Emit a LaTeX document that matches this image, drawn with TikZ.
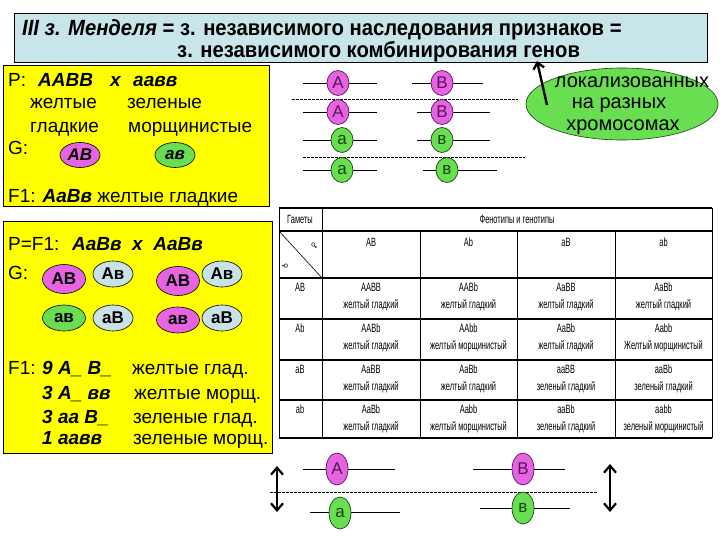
\documentclass[tikz,border=0pt]{standalone}
\usepackage{fontspec}
\setmainfont{Liberation Sans}
\newfontfamily\titlefont[FakeStretch=0.92]{Liberation Sans}
\newfontfamily\tabfont[FakeStretch=0.62]{Liberation Sans}
\newfontfamily\symfont{DejaVu Sans}
\usetikzlibrary{shapes.geometric,arrows.meta}
\definecolor{titlebg}{RGB}{200,230,234}
\definecolor{yel}{RGB}{255,255,0}
\definecolor{mag}{RGB}{230,100,225}
\definecolor{grn}{RGB}{105,222,80}
\definecolor{lblue}{RGB}{200,226,230}
\definecolor{magtxt}{RGB}{90,20,90}
\definecolor{grntxt}{RGB}{20,70,20}
\tikzset{
  box/.style={draw=black, line width=0.8, inner sep=0, anchor=north west},
  txt/.style={inner sep=0, anchor=base west, font=\fontsize{19}{19}\selectfont},
  gtxt/.style={inner sep=0, anchor=base west, font=\fontsize{19}{19}\selectfont\bfseries\itshape},
  gam/.style={ellipse, draw=black, line width=0.6, inner sep=0, minimum width=40, minimum height=25, font=\fontsize{17}{17}\selectfont\bfseries},
  chr/.style={ellipse, draw, line width=0.7, inner sep=0, minimum width=22, minimum height=25, font=\fontsize{17}{17}\selectfont},
  chM/.style={chr, fill=mag, draw=magtxt, text=magtxt},
  chG/.style={chr, fill=grn, draw=grntxt, text=grntxt},
  chline/.style={line width=0.8, black},
  dline/.style={line width=0.6, black, dash pattern=on 2.5pt off 1.5pt},
  tab/.style={inner sep=0, text=black, font=\tabfont\fontsize{12}{12}\selectfont, text height=8, text depth=2},
  dbl/.style={line width=2.2, {Straight Barb[length=7,width=12]}-{Straight Barb[length=7,width=12]}}
}
\begin{document}
\begin{tikzpicture}[x=1pt,y=-1pt]
\useasboundingbox (0,0) rectangle (720,540);
\fill[white] (0,0) rectangle (720,540);

% ---------- title ----------
\node[box, fill=titlebg, minimum width=693, minimum height=49] (title) at (14,13) {};
\node[inner sep=0, anchor=base west, font=\titlefont\fontsize{22}{22}\selectfont\bfseries] (tl1) at (22,36)
  {\itshape III з. Менделя\upshape{} = з. независимого наследования признаков =};
\node[inner sep=0, anchor=base west, font=\titlefont\fontsize{22}{22}\selectfont\bfseries] (tl2) at (177,58)
  {з. независимого комбинирования генов};

% ---------- yellow box 1 ----------
\node[box, fill=yel, minimum width=266, minimum height=141] (box1) at (3,65) {};
\node[txt] (p1) at (8,87) {P:};
\node[gtxt] (p1g) at (38,87) {AABB};
\node[gtxt] (p1x) at (110,87) {x};
\node[gtxt] (p1h) at (133,87) {aaвв};
\node[txt] (y1) at (30,109) {желтые};
\node[txt] (z1) at (127,109) {зеленые};
\node[txt] (gl1) at (30,133) {гладкие};
\node[txt] (m1) at (128,133) {морщинистые};
\node[txt] (g1) at (8,155) {G:};
\node[gam, fill=mag, font=\fontsize{17}{17}\selectfont\bfseries\itshape] (gAB) at (80,155) {AB};
\node[gam, fill=grn, font=\fontsize{17}{17}\selectfont\bfseries\itshape] (gab) at (175,155) {ав};
\node[txt] (f1) at (8,203) {F1: \textbf{\textit{AaBв}} желтые гладкие};

% ---------- yellow box 2 ----------
\node[box, fill=yel, minimum width=269, minimum height=232] (box2) at (3,221) {};
\node[txt] (p2) at (8,251) {P=F1:};
\node[gtxt] (p2g) at (72,251) {AaBв\ \ x\ \ AaBв};
\node[txt] (g2) at (8,279) {G:};
\node[gam, fill=mag, minimum width=43, minimum height=29] (e1) at (64,279) {AB};
\node[gam, fill=lblue, minimum height=26] (e2) at (113,274) {Aв};
\node[gam, fill=mag, minimum width=43, minimum height=29] (e3) at (178,281) {AB};
\node[gam, fill=lblue, minimum height=26] (e4) at (222,274) {Aв};
\node[gam, fill=grn, minimum width=43, minimum height=26] (e5) at (64,318) {ав};
\node[gam, fill=lblue, minimum height=26] (e6) at (113,318) {aB};
\node[gam, fill=mag, minimum width=43, minimum height=26] (e7) at (178,320) {ав};
\node[gam, fill=lblue, minimum height=26] (e8) at (222,318) {aB};
\node[txt] (f2) at (8,374) {F1:};
\node[gtxt] (r1) at (42,374) {9 A\_ B\_};
\node[txt] (q1) at (132,374) {желтые глад.};
\node[gtxt] (r2) at (42,399) {3 A\_ вв};
\node[txt] (q2) at (134,399) {желтые морщ.};
\node[gtxt] (r3) at (42,423) {3 aa B\_};
\node[txt] (q3) at (133,423) {зеленые глад.};
\node[gtxt] (r4) at (42,444) {1 aaвв};
\node[txt] (q4) at (133,444) {зеленые морщ.};

% ---------- top chromosomes ----------
\coordinate (a1l) at (303,83);  \coordinate (a1r) at (377,83);
\coordinate (b1l) at (412,83);  \coordinate (b1r) at (483,83);
\coordinate (a2l) at (303,112); \coordinate (a2r) at (377,112);
\coordinate (b2l) at (417,112); \coordinate (b2r) at (490,112);
\coordinate (a3l) at (303,140); \coordinate (a3r) at (377,140);
\coordinate (b3l) at (417,140); \coordinate (b3r) at (490,140);
\coordinate (a4l) at (303,170); \coordinate (a4r) at (377,170);
\coordinate (b4l) at (423,170); \coordinate (b4r) at (497,170);
\foreach \n in {a1,b1,a2,b2,a3,b3,a4,b4} \draw[chline] (\n l) -- (\n r);
\coordinate (d1l) at (292,99);  \coordinate (d1r) at (518,99);
\coordinate (d2l) at (303,157); \coordinate (d2r) at (525,157);
\draw[dline] (d1l) -- (d1r);
\draw[dline] (d2l) -- (d2r);
\node[chM] (cA1) at (338,83) {A};
\node[chM] (cB1) at (442,83) {B};
\node[chM] (cA2) at (338,112) {A};
\node[chM] (cB2) at (442,112) {B};
\node[chG] (ca3) at (342,140) {a};
\node[chG] (cb3) at (442,140) {в};
\node[chG] (ca4) at (342,170) {a};
\node[chG] (cb4) at (447,170) {в};

% ---------- green ellipse + arrow ----------
\node[ellipse, fill=grn, draw=grntxt, line width=0.6, minimum width=192, minimum height=72, inner sep=0] (loc) at (622,104) {};
\node[inner sep=0, font=\fontsize{20}{20}\selectfont, anchor=base] (loc1) at (632,88) {локализованных};
\node[inner sep=0, font=\fontsize{20}{20}\selectfont, anchor=base] (loc2) at (619,109) {на разных};
\node[inner sep=0, font=\fontsize{20}{20}\selectfont, anchor=base] (loc3) at (623,131) {хромосомах};
\coordinate (arT) at (547,105);
\coordinate (arH) at (537,61);
\draw[line width=2.4, -{Straight Barb[length=6,width=11]}] (arT) -- (arH);

% ---------- table ----------
\foreach \y in {208,231,278,319,360,400,438} \draw[line width=1.1] (279,\y) -- (712,\y);
\draw[line width=0.6] (279,208) -- (279,438);
\draw[line width=0.6] (712,208) -- (712,438);
\draw[line width=0.6] (322,208) -- (322,438);
\foreach \x in {420,517,615} \draw[line width=0.6] (\x,231) -- (\x,438);
\draw[line width=0.6] (279,231) -- (322,278);
\node[tab] (hG) at (300,220) {Гаметы};
\node[tab] (hF) at (517,220) {Фенотипы и генотипы};
\node[inner sep=0, rotate=-90, font=\symfont\fontsize{7}{7}\selectfont] (male) at (314,246) {♂};
\node[inner sep=0, rotate=-90, font=\symfont\fontsize{7}{7}\selectfont] (fem) at (285,266) {♀};
\node[tab] (cAB) at (371,244) {AB};
\node[tab] (cAb) at (468.5,244) {Ab};
\node[tab] (caB) at (566,244) {aB};
\node[tab] (cab) at (663.5,244) {ab};
\foreach \r/\lab/\ga/\pa/\gb/\pb/\gc/\pc/\gd/\pd in {
278/AB/AABB/желтый гладкий/AABb/желтый гладкий/AaBB/желтый гладкий/AaBb/желтый гладкий,
319/Ab/AABb/желтый гладкий/AAbb/желтый морщинистый/AaBb/желтый гладкий/Aabb/Желтый морщинистый,
360/aB/AaBB/желтый гладкий/AaBb/желтый гладкий/aaBB/зеленый гладкий/aaBb/зеленый гладкий,
400/ab/AaBb/желтый гладкий/Aabb/желтый морщинистый/aaBb/зеленый гладкий/aabb/зеленый морщинистый}{
  \node[tab] (L\r) at (300,\r+10) {\lab};
  \node[tab] (G1\r) at (371,\r+10) {\ga};
  \node[tab] (P1\r) at (371,\r+27) {\pa};
  \node[tab] (G2\r) at (468.5,\r+10) {\gb};
  \node[tab] (P2\r) at (468.5,\r+27) {\pb};
  \node[tab] (G3\r) at (566,\r+10) {\gc};
  \node[tab] (P3\r) at (566,\r+27) {\pc};
  \node[tab] (G4\r) at (663.5,\r+10) {\gd};
  \node[tab] (P4\r) at (663.5,\r+27) {\pd};
}

% ---------- bottom chromosomes ----------
\coordinate (bal) at (303,469); \coordinate (bar) at (395,469);
\coordinate (bbl) at (473,469); \coordinate (bbr) at (565,469);
\coordinate (sal) at (310,512); \coordinate (sar) at (400,512);
\coordinate (sbl) at (480,508); \coordinate (sbr) at (570,508);
\foreach \n in {ba,bb,sa,sb} \draw[chline] (\n l) -- (\n r);
\coordinate (bdl) at (270,492); \coordinate (bdr) at (598,492);
\draw[dline] (bdl) -- (bdr);
\node[chM, minimum height=32] (BA) at (337,469) {A};
\node[chM, minimum height=32] (BB) at (523,469) {B};
\node[chG, minimum height=32] (Ba) at (340,513) {a};
\node[chG, minimum height=32] (Bb) at (523,508) {в};
\coordinate (dlt) at (277,466); \coordinate (dlb) at (277,512);
\coordinate (drt) at (610,464); \coordinate (drb) at (610,512);
\draw[dbl] (dlt) -- (dlb);
\draw[dbl] (drt) -- (drb);
\end{tikzpicture}
\end{document}
